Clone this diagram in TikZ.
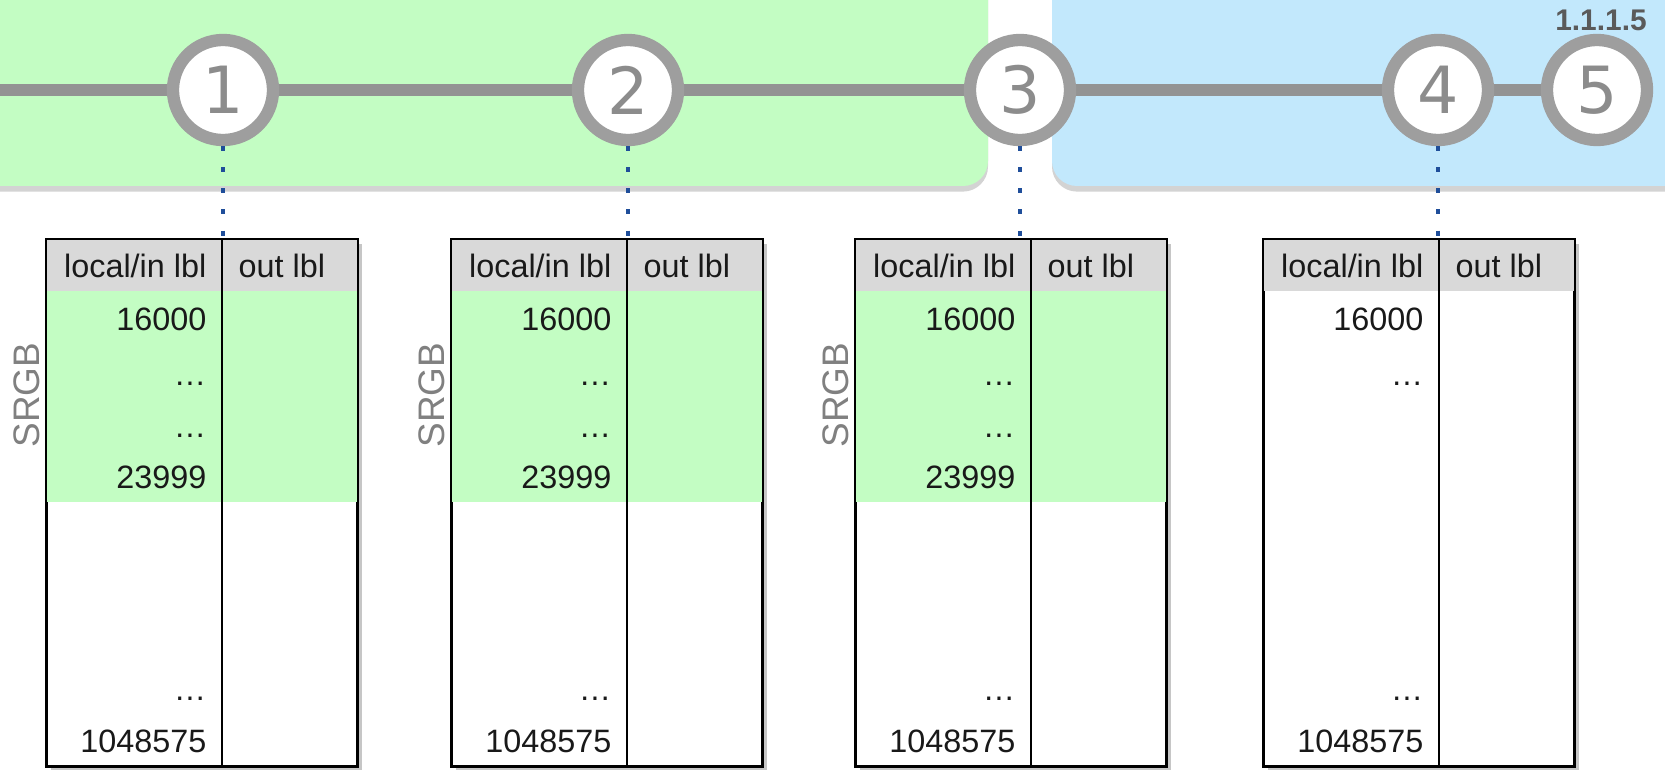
\documentclass[tikz,border=0pt]{standalone}
\usepackage{fontspec}
\setmainfont{Liberation Sans}
\newfontfamily\numfont{DejaVu Sans}
\usepackage{xcolor}
\usepackage{tikz}
\usetikzlibrary{positioning, shadows, backgrounds}

\definecolor{srgbgreen}{HTML}{C3FDC3}
\definecolor{areablue}{HTML}{C2E8FC}
\definecolor{headgray}{HTML}{D9D9D9}
\definecolor{ringgray}{HTML}{9E9E9E}
\definecolor{trackgray}{HTML}{939393}
\definecolor{numgray}{HTML}{8C8C8C}
\definecolor{dotblue}{HTML}{1F4E9A}
\definecolor{vergray}{HTML}{5A5A5A}

\begin{document}
\begin{tikzpicture}[
    x=0.01cm, y=-0.01cm,
    hop/.style={circle, draw=ringgray, line width=3.5pt, fill=white, minimum size=1cm, inner sep=0pt,
                font=\numfont\fontsize{18.5}{18.5}\selectfont, text=numgray},
    area/.style={rounded corners=0.25cm, drop shadow={shadow xshift=0pt, shadow yshift=-1.6pt, opacity=0.35}},
    track/.style={line width=3.5pt, draw=trackgray},
    link/.style={dotblue, line width=1.4pt, dash pattern=on 1.4pt off 4.6pt},
    frame/.style={draw, line width=0.6pt, fill=white, minimum width=3.1cm, minimum height=5.26cm, inner sep=0pt,
                  drop shadow={shadow xshift=1.3pt, shadow yshift=-1.3pt, opacity=0.45}},
    rule/.style={line width=0.6pt},
    cell/.style={font=\fontsize{9.2}{11}\selectfont, text=black!90, inner sep=0pt},
    srgb/.style={rotate=90, font=\fontsize{10.5}{12}\selectfont, text=gray, inner sep=0pt},
    ver/.style={font=\bfseries\fontsize{8.5}{10}\selectfont, text=vergray, inner sep=0pt},
]
\useasboundingbox (0,0) rectangle (1665,770);

% hops along the path
\node[hop] (c1) at (223,90) {1};
\node[hop] (c2) at (628,90) {2};
\node[hop] (c3) at (1020,90) {3};
\node[hop] (c4) at (1438,90) {4};
\node[hop] (c5) at (1597,90) {5};
\node[ver] (ver) at (1601,20) {1.1.1.5};

% label tables
\foreach \L/\n in {47/1, 452/2, 856/3, 1264/4} {
    \node[frame] (t\n) at (\L+155,503) {};
    \fill[headgray] (t\n.north west) rectangle ([yshift=-0.52cm]t\n.north east);
}
% SRGB range (tables 1-3)
\foreach \L/\n in {47/1, 452/2, 856/3} {
    \fill[srgbgreen] ([yshift=-0.52cm]t\n.north west) rectangle ([yshift=-2.63cm]t\n.north east);
    \node[srgb] (s\n) at (\L-20,395) {SRGB};
    \node[cell, anchor=base east] (m\n) at (\L+160,438) {…};
    \node[cell, anchor=base east] (hi\n) at (\L+160,489) {23999};
}
\foreach \L/\n in {47/1, 452/2, 856/3, 1264/4} {
    \draw[rule] ([xshift=1.76cm]t\n.north west) -- ([xshift=1.76cm]t\n.south west);
    \draw[rule] (t\n.north west) rectangle (t\n.south east);
    \node[cell, anchor=base east] (in\n) at (\L+160,278) {local/in lbl};
    \node[cell, anchor=base west] (out\n) at (\L+191,278) {out lbl};
    \node[cell, anchor=base east] (lo\n) at (\L+160,331) {16000};
    \node[cell, anchor=base east] (d\n) at (\L+160,386) {…};
    \node[cell, anchor=base east] (e\n) at (\L+160,701) {…};
    \node[cell, anchor=base east] (max\n) at (\L+160,753) {1048575};
}

% hop to table
\draw[link] (c1) -- (c1 |- t1.north);
\draw[link] (c2) -- (c2 |- t2.north);
\draw[link] (c3) -- (c3 |- t3.north);
\draw[link] (c4) -- (c4 |- t4.north);

\begin{scope}[on background layer]
    % domains
    \fill[srgbgreen, area] (-40,-40) rectangle (988,186);
    \fill[areablue, area] (1052,-40) rectangle (1720,186);
    % path
    \coordinate (start) at (-20,90);
    \draw[track] (start) -- (c1) -- (c2) -- (c3) -- (c4) -- (c5);
\end{scope}

\end{tikzpicture}
\end{document}
